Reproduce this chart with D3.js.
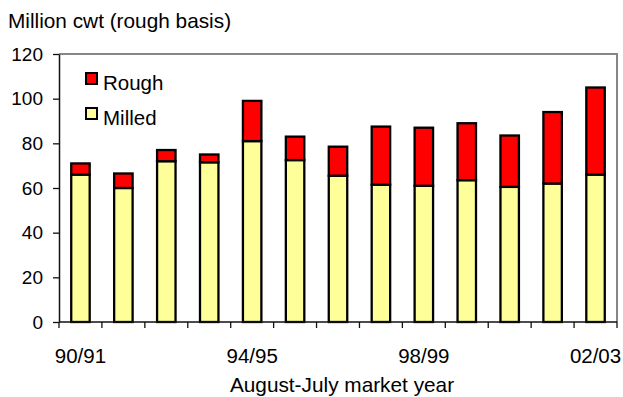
<!DOCTYPE html>
<html>
<head>
<meta charset="utf-8">
<script src="https://cdn.jsdelivr.net/npm/d3@7"></script>
<style>
  html, body { margin: 0; padding: 0; background: #fff; }
  svg { display: block; font-family: "Liberation Sans", Arial, sans-serif; }
</style>
</head>
<body>
<svg id="chart" width="623" height="397"></svg>
<script>
// Market years (August-July)
const years = ["90/91","91/92","92/93","93/94","94/95","95/96","96/97","97/98","98/99","99/00","00/01","01/02","02/03"];
// Milled rice, million cwt (rough basis)
const milled = [66, 60, 72, 71.5, 81, 72.5, 65.5, 61.5, 61, 63.5, 60.5, 62, 66];
// Rough rice, million cwt
const rough = [5, 6.5, 5, 3.5, 18, 10.5, 13, 26, 26, 25.5, 23, 32, 39];
// Labelled years on the category axis
const yearLabels = ["90/91", "94/95", "98/99", "02/03"];
const yTicks = [0, 20, 40, 60, 80, 100, 120];

const seriesNames = ["Milled", "Rough"];
const colors = { Milled: "#FFFF99", Rough: "#FF0000" };

const svg = d3.select("#chart");
const margin = { left: 59, right: 6, top: 54, bottom: 75 };
const W = 623, H = 397;
const x0 = margin.left, x1 = W - margin.right;
const y0 = H - margin.bottom, y1 = margin.top;

const x = d3.scaleBand().domain(years).range([x0, x1]).paddingInner(0.57).paddingOuter(0.285);
const xb = d3.scaleBand().domain(years).range([x0, x1]).padding(0);
const y = d3.scaleLinear().domain([0, 120]).range([y0, y1]);

const rows = years.map((yr, i) => ({ year: yr, Milled: milled[i], Rough: rough[i] }));
const stacked = d3.stack().keys(seriesNames)(rows);

// Plot frame: grey top and right edges
svg.append("path")
  .attr("d", `M${x0},${y1}H${x1}V${y0}`)
  .attr("fill", "none").attr("stroke", "#868686").attr("stroke-width", 2);

// Stacked bars
svg.append("g").selectAll("g").data(stacked).join("g")
  .attr("fill", d => colors[d.key])
  .selectAll("rect").data(d => d).join("rect")
  .attr("x", d => x(d.data.year))
  .attr("width", x.bandwidth())
  .attr("y", d => y(d[1]))
  .attr("height", d => y(d[0]) - y(d[1]))
  .attr("stroke", "#000").attr("stroke-width", 2.3);

// Y axis
const yAxis = svg.append("g").attr("transform", `translate(${x0},0)`)
  .call(d3.axisLeft(y).tickValues(yTicks).tickSize(6).tickPadding(10).tickSizeOuter(0));
yAxis.select(".domain").attr("stroke", "#111").attr("stroke-width", 1.5);
yAxis.selectAll(".tick line").attr("stroke", "#111").attr("stroke-width", 1.3);
yAxis.selectAll("text").attr("font-size", 19).attr("fill", "#000")
  .attr("font-family", "Liberation Sans, Arial, sans-serif");

// X axis: ticks at category boundaries
const bounds = years.map(yr => xb(yr)).concat([x1]);
const xAxis = svg.append("g").attr("transform", `translate(0,${y0})`);
xAxis.append("line").attr("x1", x0).attr("x2", x1).attr("y1", 0).attr("y2", 0)
  .attr("stroke", "#111").attr("stroke-width", 1.5);
xAxis.selectAll("line.tk").data(bounds).join("line").attr("class", "tk")
  .attr("x1", d => d).attr("x2", d => d).attr("y1", 0).attr("y2", 6)
  .attr("stroke", "#111").attr("stroke-width", 1.3);
xAxis.selectAll("text").data(yearLabels).join("text")
  .attr("x", d => xb(d) + xb.bandwidth() / 2)
  .attr("y", 41)
  .attr("text-anchor", "middle")
  .attr("font-size", 20.5)
  .text(d => d);

// Axis titles
svg.append("text").attr("x", 8).attr("y", 28).attr("font-size", 20.8)
  .text("Million cwt (rough basis)");
svg.append("text").attr("x", 342).attr("y", 392).attr("text-anchor", "middle").attr("font-size", 20.8)
  .text("August-July market year");

// Legend
const legend = svg.append("g").attr("transform", "translate(86,73)");
const legendItems = ["Rough", "Milled"];
legend.selectAll("g").data(legendItems).join("g")
  .attr("transform", (d, i) => `translate(0,${i * 35})`)
  .each(function (d) {
    const g = d3.select(this);
    g.append("rect").attr("width", 11).attr("height", 11)
      .attr("fill", colors[d]).attr("stroke", "#000").attr("stroke-width", 2);
    g.append("text").attr("x", 17).attr("y", 17).attr("font-size", 20.5).text(d);
  });
</script>
</body>
</html>
